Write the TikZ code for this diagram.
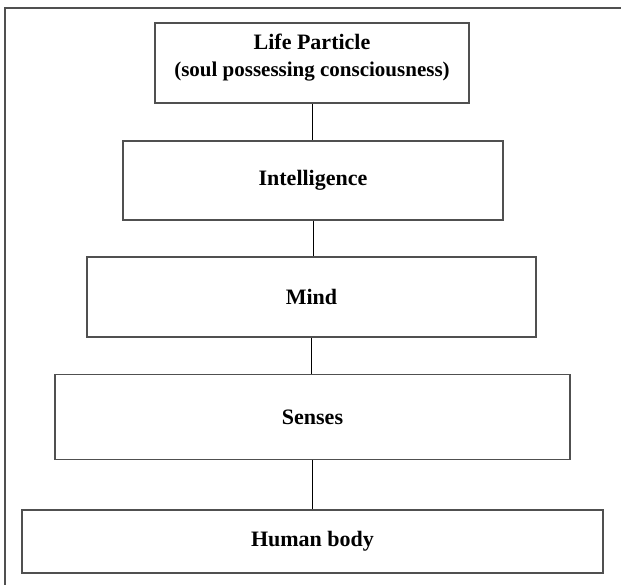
\documentclass[tikz,border=0pt]{standalone}
\usepackage{fontspec}
\setmainfont{Liberation Serif}
\begin{document}
\begin{tikzpicture}[x=1pt,y=-1pt,
  levelbox/.style={draw=boxgray,line width=1.6pt,minimum width=#1,inner sep=0pt,font=\fontsize{22}{26}\selectfont\bfseries},
  link/.style={draw=black,line width=1pt},
  frameline/.style={draw=boxgray,line width=1.8pt}]
\definecolor{boxgray}{HTML}{505050}
\useasboundingbox (0,0) rectangle (621,585);
\fill[white] (0,0) rectangle (621,585);
% frame
\coordinate (ftl) at (5,8);
\coordinate (ftr) at (621,8);
\coordinate (fbl) at (5,585);
\draw[frameline] (fbl) -- (ftl) -- (ftr);
% boxes
\node[levelbox=314pt,minimum height=80pt] (b1) at (312,63) {};
\node[font=\fontsize{22}{27}\selectfont\bfseries,align=center,inner sep=0pt] (t1) at (312,58)
  {Life Particle\\{\fontsize{21}{27}\selectfont (soul possessing consciousness)}};
\node[levelbox=380pt,minimum height=79pt] (b2) at (313,180.5) {Intelligence};
\node[levelbox=449pt,minimum height=80pt] (b3) at (311.5,297) {Mind};
\node[levelbox=515pt,minimum height=85pt] (b4) at (312.5,417) {Senses};
\node[levelbox=581pt,minimum height=63pt] (b5) at (312.5,541.5) {Human body};
% connectors
\draw[link] (b1.south) -- (b1.south |- b2.north);
\draw[link] (b2.south) -- (b2.south |- b3.north);
\draw[link] (b3.south) -- (b3.south |- b4.north);
\draw[link] (b4.south) -- (b4.south |- b5.north);
\end{tikzpicture}
\end{document}
